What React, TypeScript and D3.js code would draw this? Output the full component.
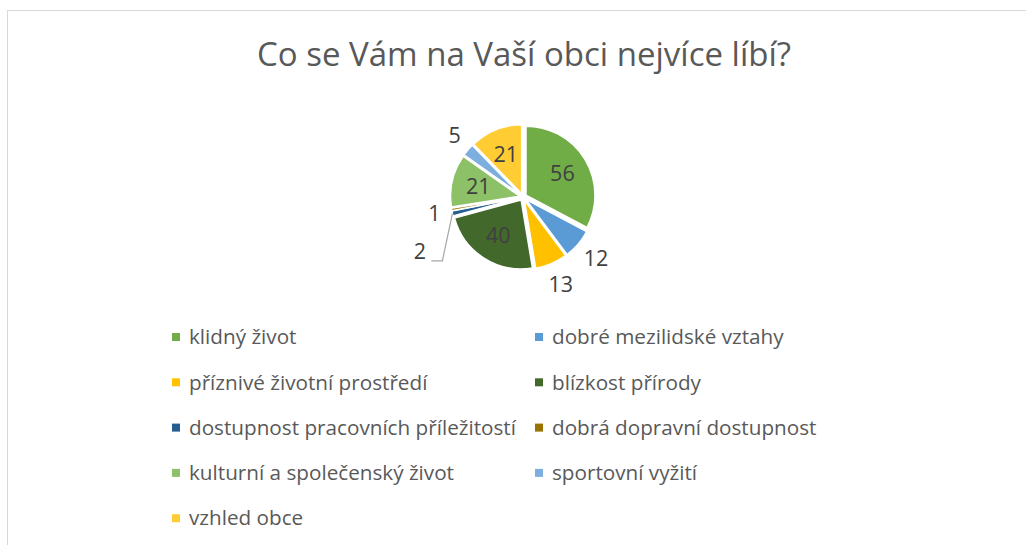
import React, { useEffect, useRef } from "react";
import * as d3 from "d3";

// survey answers, in the order Excel draws them (clockwise from 12 o'clock)
const categories = [
  "klidný život",
  "dobré mezilidské vztahy",
  "příznivé životní prostředí",
  "blízkost přírody",
  "dostupnost pracovních příležitostí",
  "dobrá dopravní dostupnost",
  "kulturní a společenský život",
  "sportovní vyžití",
  "vzhled obce",
];
const counts = [56, 12, 13, 40, 2, 1, 21, 5, 21];
const colors = [
  "#70AD47",
  "#5B9BD5",
  "#FFC000",
  "#43682B",
  "#255E91",
  "#997300",
  "#8CC168",
  "#7CAFDD",
  "#FFCD33",
];
// which labels sit inside the slice
const insideLabel = [true, false, false, true, false, false, true, false, true];

const title = "Co se Vám na Vaší obci nejvíce líbí?";

const W = 1026;
const H = 545;
const FONT = "'Open Sans', 'DejaVu Sans', sans-serif";

export default function App() {
  const ref = useRef<SVGSVGElement>(null);

  useEffect(() => {
    const svg = d3.select(ref.current);
    svg.selectAll("*").remove();

    // chart area border (runs off the right / bottom of the shot)
    svg
      .append("rect")
      .attr("x", 7.5)
      .attr("y", 10.5)
      .attr("width", W + 20)
      .attr("height", H + 20)
      .attr("fill", "#fff")
      .attr("stroke", "#d9d9d9")
      .attr("stroke-width", 1);

    svg
      .append("text")
      .attr("x", 524)
      .attr("y", 66)
      .attr("text-anchor", "middle")
      .attr("font-family", FONT)
      .attr("font-size", 33)
      .attr("fill", "#595959")
      .text(title);

    const cx = 523,
      cy = 197,
      r = 69,
      explode = 3.5;

    const data = categories.map((c, i) => ({ name: c, value: counts[i], i }));
    const pie = d3
      .pie<any>()
      .sort(null)
      .value((d) => d.value);
    const arcs = pie(data);
    const arc = d3.arc<any>().innerRadius(0).outerRadius(r);

    const g = svg.append("g").attr("transform", `translate(${cx},${cy})`);

    const mid = (a: any) => (a.startAngle + a.endAngle) / 2;

    g.selectAll("path.slice")
      .data(arcs)
      .enter()
      .append("path")
      .attr("class", "slice")
      .attr("transform", (a) => {
        const m = mid(a);
        return `translate(${Math.sin(m) * explode},${-Math.cos(m) * explode})`;
      })
      .attr("d", arc as any)
      .attr("fill", (a) => colors[a.data.i])
      .attr("stroke", "#fff")
      .attr("stroke-width", 1.5)
      .attr("stroke-linejoin", "round");

    // label nudges where Excel moved a label to avoid overlap
    const nudge: Record<number, [number, number]> = { 4: [-15.5, 33] };

    const labelPos = (a: any) => {
      const m = mid(a);
      const s = Math.sin(m),
        c = -Math.cos(m);
      let x, y;
      if (insideLabel[a.data.i]) {
        x = s * 46;
        y = c * 46;
      } else {
        // outside: the label box touches a ring just outside the pie
        const hw = String(a.data.value).length * 6;
        const hh = 11;
        x = s * 84 + s * hw;
        y = c * 84 + c * hh;
      }
      const n = nudge[a.data.i];
      if (n) {
        x += n[0];
        y += n[1];
      }
      return [x, y];
    };

    // leader lines for nudged labels
    arcs
      .filter((a) => nudge[a.data.i])
      .forEach((a) => {
        const [lx, ly] = labelPos(a);
        const m = mid(a);
        const ex = Math.sin(m) * (r + explode);
        const ey = -Math.cos(m) * (r + explode);
        g.append("path")
          .attr(
            "d",
            d3.line()([
              [lx + 11.5, ly + 9.3],
              [lx + 22.5, ly + 9.3],
              [ex, ey],
            ]) as string
          )
          .attr("fill", "none")
          .attr("stroke", "#a6a6a6")
          .attr("stroke-width", 1.2);
      });

    g.selectAll("text.lbl")
      .data(arcs)
      .enter()
      .append("text")
      .attr("class", "lbl")
      .attr("x", (a) => labelPos(a)[0])
      .attr("y", (a) => labelPos(a)[1])
      .attr("dy", "0.36em")
      .attr("text-anchor", "middle")
      .attr("font-family", FONT)
      .attr("font-size", 21.5)
      .attr("fill", "#404040")
      .text((a) => a.data.value);

    // legend, two columns
    const colX = [172, 535];
    const rowY = d3.range(5).map((k) => 337 + k * 45.3);
    const leg = svg
      .selectAll("g.leg")
      .data(data)
      .enter()
      .append("g")
      .attr("class", "leg")
      .attr("transform", (d) => `translate(${colX[d.i % 2]},${rowY[Math.floor(d.i / 2)]})`);
    leg
      .append("rect")
      .attr("x", 0)
      .attr("y", -4)
      .attr("width", 8)
      .attr("height", 8)
      .attr("fill", (d) => colors[d.i]);
    leg
      .append("text")
      .attr("x", 17)
      .attr("y", 0)
      .attr("dy", "0.35em")
      .attr("font-family", FONT)
      .attr("font-size", 20.7)
      .attr("fill", "#595959")
      .text((d) => d.name);
  }, []);

  return (
    <svg
      ref={ref}
      width={W}
      height={H}
      style={{ position: "absolute", left: 0, top: 0, background: "#fff" }}
    />
  );
}
